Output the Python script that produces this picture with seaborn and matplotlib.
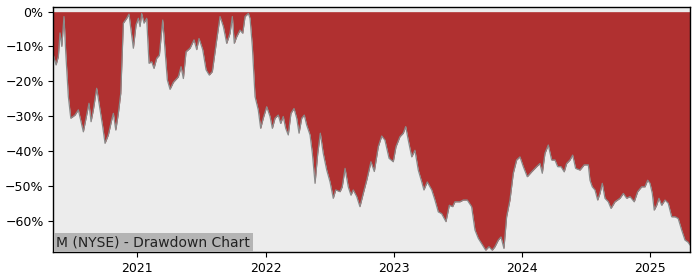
import matplotlib
matplotlib.use("Agg")
import matplotlib.pyplot as plt
import seaborn as sns
import pandas as pd
from matplotlib.ticker import FuncFormatter

# Decimal-year dates and drawdown values (%)
years = [
    2020.345, 2020.366, 2020.384, 2020.397, 2020.411, 2020.428, 2020.442, 2020.462, 2020.481,
    2020.514, 2020.540, 2020.579, 2020.623, 2020.639, 2020.657, 2020.683, 2020.709, 2020.730,
    2020.748, 2020.774, 2020.800, 2020.813, 2020.832, 2020.852, 2020.871, 2020.891, 2020.917,
    2020.935, 2020.951, 2020.969, 2020.990, 2021.008, 2021.021, 2021.034, 2021.052, 2021.073,
    2021.091, 2021.112, 2021.130, 2021.151, 2021.172, 2021.198, 2021.216, 2021.234, 2021.255,
    2021.281, 2021.320, 2021.341, 2021.359, 2021.380, 2021.411, 2021.442, 2021.463, 2021.481,
    2021.510, 2021.536, 2021.561, 2021.585, 2021.619, 2021.645, 2021.671, 2021.697, 2021.723,
    2021.741, 2021.756, 2021.775, 2021.801, 2021.822, 2021.840, 2021.866, 2021.879, 2021.897,
    2021.918, 2021.943, 2021.962, 2021.982, 2022.009, 2022.035, 2022.053, 2022.074, 2022.099,
    2022.118, 2022.138, 2022.157, 2022.177, 2022.198, 2022.222, 2022.243, 2022.261, 2022.282,
    2022.302, 2022.321, 2022.347, 2022.365, 2022.386, 2022.407, 2022.427, 2022.450, 2022.477,
    2022.503, 2022.528, 2022.547, 2022.581, 2022.598, 2022.620, 2022.645, 2022.666, 2022.684,
    2022.711, 2022.736, 2022.762, 2022.789, 2022.822, 2022.848, 2022.879, 2022.906, 2022.931,
    2022.963, 2022.996, 2023.017, 2023.048, 2023.074, 2023.093, 2023.113, 2023.140, 2023.165,
    2023.191, 2023.218, 2023.235, 2023.261, 2023.296, 2023.321, 2023.347, 2023.373, 2023.407,
    2023.433, 2023.459, 2023.477, 2023.516, 2023.542, 2023.573, 2023.607, 2023.633, 2023.659,
    2023.685, 2023.717, 2023.742, 2023.768, 2023.789, 2023.815, 2023.836, 2023.859, 2023.880,
    2023.906, 2023.932, 2023.958, 2023.984, 2024.010, 2024.041, 2024.075, 2024.114, 2024.140,
    2024.158, 2024.179, 2024.205, 2024.231, 2024.257, 2024.278, 2024.304, 2024.329, 2024.348,
    2024.374, 2024.395, 2024.418, 2024.452, 2024.485, 2024.517, 2024.530, 2024.548, 2024.569,
    2024.590, 2024.608, 2024.626, 2024.647, 2024.673, 2024.694, 2024.725, 2024.764, 2024.790,
    2024.816, 2024.842, 2024.875, 2024.902, 2024.933, 2024.959, 2024.980, 2024.998, 2025.016,
    2025.031, 2025.050, 2025.068, 2025.089, 2025.115, 2025.140, 2025.167, 2025.193, 2025.218,
    2025.245, 2025.271, 2025.292, 2025.310,
]
drawdown = [
    -12.4, -15.3, -12.9, -6.1, -10.0, -1.4, -11.9, -24.4, -30.6,
    -29.7, -28.2, -34.5, -26.3, -31.6, -28.2, -22.0, -28.2, -33.0,
    -37.8, -35.4, -31.1, -29.2, -34.0, -29.2, -23.4, -3.3, -1.9,
    -0.7, -5.3, -10.5, -3.8, -1.9, -4.3, -0.5, -3.3, -1.9,
    -14.8, -14.4, -16.3, -13.4, -12.5, -2.4, -11.0, -19.6, -22.3,
    -20.3, -18.7, -15.8, -19.2, -11.5, -10.5, -8.1, -10.9, -7.7,
    -10.9, -16.7, -18.2, -17.2, -8.1, -1.4, -4.3, -9.1, -6.2,
    -1.4, -9.1, -7.2, -5.3, -6.2, -1.4, -0.5, -1.9, -10.0,
    -24.4, -28.2, -33.5, -30.6, -27.3, -30.1, -33.5, -30.6, -29.7,
    -32.1, -30.1, -33.5, -35.4, -29.2, -27.8, -30.6, -34.9, -30.6,
    -29.7, -32.6, -35.4, -40.7, -49.3, -40.7, -34.9, -40.7, -45.5,
    -48.9, -53.6, -51.2, -51.7, -50.3, -45.0, -50.3, -52.7, -51.2,
    -53.1, -56.0, -52.2, -48.4, -43.1, -45.9, -38.8, -35.7, -36.9,
    -42.1, -43.1, -38.8, -35.9, -34.9, -33.0, -36.9, -41.7, -39.8,
    -45.5, -48.9, -51.2, -48.9, -51.2, -54.1, -57.5, -58.0, -60.3,
    -55.6, -56.0, -54.6, -54.6, -54.1, -54.1, -56.0, -62.7, -65.1,
    -66.6, -68.5, -67.5, -68.5, -67.5, -65.6, -64.7, -68.0, -58.9,
    -54.1, -46.4, -42.6, -41.7, -44.5, -47.4, -46.0, -44.5, -43.6,
    -46.4, -40.7, -38.3, -42.6, -42.6, -44.5, -44.5, -46.0, -43.6,
    -42.6, -41.2, -45.0, -45.5, -44.0, -44.0, -48.4, -50.3, -51.2,
    -54.1, -52.2, -49.3, -53.6, -54.6, -56.5, -54.6, -53.6, -52.2,
    -53.6, -53.1, -54.6, -51.7, -50.3, -50.3, -48.4, -49.3, -52.2,
    -57.0, -55.6, -53.6, -55.6, -54.1, -55.0, -58.9, -58.9, -59.4,
    -62.7, -65.6, -66.1, -67.0,
]
year_ticks = [2021, 2022, 2023, 2024, 2025]
pct_ticks = [0, -10, -20, -30, -40, -50, -60]
title_text = "M (NYSE) - Drawdown Chart"

df = pd.DataFrame({"year": years, "drawdown": drawdown})

fig = plt.figure(figsize=(7, 2.8), dpi=100)
ax = fig.add_axes([0.0762, 0.099, 0.9095, 0.875])
ax.set_facecolor("#ececec")

ax.fill_between(df["year"], df["drawdown"], 0, color="#b03030", linewidth=0, zorder=2)
sns.lineplot(data=df, x="year", y="drawdown", ax=ax, color="#8a8a8a", linewidth=0.9, zorder=3)

ax.set_xlim(min(years), max(years))
ax.set_ylim(-69.1, 1.26)
ax.set_xticks(year_ticks)
ax.set_xticklabels([str(y) for y in year_ticks])
ax.set_yticks(pct_ticks)
ax.yaxis.set_major_formatter(FuncFormatter(lambda v, p: f"{int(v)}%".replace("-", "\u2212")))
ax.tick_params(labelsize=9, colors="black")
ax.set_xlabel("")
ax.set_ylabel("")
for s in ax.spines.values():
    s.set_color("black")
    s.set_linewidth(1.0)
    s.set_zorder(5)

ax.annotate(title_text, xy=(0, 0), xycoords="axes fraction",
            xytext=(2.2, 2.3), textcoords="offset points",
            ha="left", va="bottom", fontsize=10, color="#222222", zorder=6,
            bbox=dict(boxstyle="square,pad=0.18", facecolor="#b4b4b4", edgecolor="none"))

fig.savefig("out.png", dpi=100)
